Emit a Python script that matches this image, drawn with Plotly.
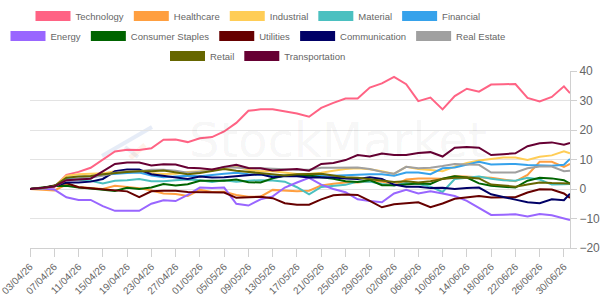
import pandas as pd
import plotly.graph_objects as go

# Dates: every 2 days from 03/04/26 to 30/06/26, plus 01/07/26
DATES = list(pd.date_range("2026-04-03", periods=45, freq="2D").strftime("%Y-%m-%d")) + ["2026-07-01"]

SERIES = ["Technology", "Healthcare", "Industrial", "Material", "Financial",
          "Energy", "Consumer Staples", "Utilities", "Communication", "Real Estate",
          "Retail", "Transportation"]

COLORS = ["#ff6384", "#ff9f40", "#ffcd56", "#4bc0c0", "#36a2eb",
          "#9966ff", "#006400", "#660000", "#000066", "#a0a0a0",
          "#666600", "#660033"]

technology = [0, 0.2, 0.6, 4.8, 5.8, 7.2, 9.8, 12.7, 13.3, 13.2, 13.8, 16.7, 16.8, 15.9, 17.2, 17.6,
              19.5, 22.4, 26.5, 27, 27, 26.4, 25.6, 24.5, 27.5, 29.2, 30.7, 30.7, 34.4, 35.8, 38, 35.5,
              29.8, 31, 27, 31.5, 34, 33, 35.4, 35.5, 35.6, 30.9, 29.7, 31.2, 34.8, 32.5]
healthcare = [0, -0.2, -0.5, 1.5, 0.7, 0.3, 0, 1.1, 0.8, 0.3, -0.5, -1.5, -1.7, -2.4, -0.3, -1,
              -0.9, -2, -2.6, -2.6, -0.3, -0.5, -0.8, -0.6, 1.2, 1.8, 2.2, 2.2, 2.6, 2.5, 1.2, 3.2,
              3.6, 3.6, 3.5, 4.4, 4.1, 4, 3.8, 3.3, 2.6, 4.8, 9.2, 9.2, 7.5, 8.5]
industrial = [0, 0.3, 0.8, 4.5, 5, 5.2, 5.3, 6, 6.2, 6.2, 5.3, 5.1, 5.2, 5.8, 6, 6.5,
              7.2, 7.5, 6.5, 6, 6, 5.5, 5.1, 5.1, 5.5, 6.2, 6.8, 7, 6.7, 6, 5.1, 7.5,
              6.8, 6.4, 6, 7.6, 8.8, 9.7, 10.2, 10.7, 10.7, 9.8, 10.9, 11.4, 12.8, 12.1]
material = [0, 0.2, 1, 3.4, 3.1, 2.8, 1.9, 2.8, 3, 3.4, 2.6, 2.6, 3, 3.2, 3, 2.4,
            3, 2.5, 2.8, 3, 2.9, 2.5, 0.6, -1.8, 0.7, 1.1, 1.4, 2.5, 2.5, 1.7, 1.2, 2,
            1.7, 0.8, -1, 3.4, 3.8, 4.2, 3.5, 3, 2.8, 3.8, 3.2, 1.5, 1.6, 1.7]
financial = [0, 0.3, 1, 3.4, 3.6, 3.8, 4.8, 5.2, 5.4, 5.6, 4.6, 4, 4.2, 4.5, 4.3, 4.8,
             5.2, 5.5, 5, 4.8, 4.5, 4.6, 4.5, 4.5, 4.5, 4.5, 4.7, 4.8, 5, 5, 4.5, 5.6,
             5.6, 5, 7, 7.3, 8.2, 9.2, 8.3, 8.4, 8.5, 8.1, 7.9, 7.9, 8.2, 10.2]
energy = [0, 0.2, -0.2, -2.8, -3.7, -3.7, -5.8, -7.4, -7.4, -7.4, -5, -3.8, -4.1, -2, 0.5, 0.3,
          0.5, -5, -5.6, -3.5, -2.5, 0.5, 2.2, 3.8, 1.5, 0, -1.1, -3.5, -4.1, -4.5, -1.5, -0.3,
          -1.5, -0.8, -1.5, -2.4, -4, -6.5, -8.8, -8.7, -8.6, -9.3, -8.5, -8.9, -9.8, -10.5]
consumer_staples = [0, 0.5, 1, 1.1, 0.5, 0.2, -0.3, -0.7, 0.4, 0, 0.5, 1.7, 1.2, 1.6, 2.8, 2.8,
                    2.8, 3.2, 2.3, 2.2, 3.6, 4.5, 4.5, 4.6, 4, 3.5, 2.6, 2.4, 3, 1.3, 1.3, 1.6,
                    1.9, 1.7, 3.5, 4.3, 3.9, 1.9, 1.1, 0.8, 0.5, 2.8, 3.8, 3.6, 3, 1.8]
utilities = [0, 0.3, 1.2, 2, 0.6, 0.3, -0.2, -0.4, -0.8, -2.8, -0.8, -0.6, -0.6, -1, -1.1, -1.1,
             -1.2, -3, -2.7, -2.6, -3.1, -4.8, -5.3, -5.3, -3.5, -2.1, -1.9, -2, -4, -6.2, -5.2, -4.8,
             -4.5, -6.2, -4.9, -3.3, -2.9, -2.4, -2.9, -2.9, -2.8, -1.2, -0.1, -0.2, -1.5, -3]
communication = [0, 0.3, 1, 2.2, 2.2, 2.5, 3.4, 6, 6.6, 6.6, 5, 4.5, 4, 3.4, 4.2, 3.9,
                 4, 4.4, 4.6, 5, 4, 4.4, 4.3, 3.9, 3.9, 3.9, 3.6, 3.4, 4, 3.4, 1.5, 0.8,
                 0.8, 0.3, 0.4, 0, 0.3, 0.5, -1.8, -2.8, -3.6, -4.5, -4.8, -3.5, -3.8, -1.6]
real_estate = [0, 0.2, 0.8, 3, 3.5, 4, 4.5, 5.5, 6, 6, 6.5, 6.5, 6.2, 5.5, 5.8, 6.2,
               7.5, 7.2, 7, 7, 6.8, 6.6, 6.5, 6.5, 7.2, 7.2, 7.3, 7.3, 6.8, 5.8, 5.2, 7.5,
               7, 7.2, 7.8, 8.5, 8.3, 8.2, 5.6, 5.6, 5.6, 7, 7.6, 7.6, 6, 6.2]
retail = [0, 0.3, 1, 3.8, 4.2, 4.4, 5, 5.5, 5.8, 6, 6, 6.3, 5.6, 5, 5.4, 6,
          6.8, 6.2, 5.8, 5.2, 4.8, 4.6, 5, 5.2, 5.2, 4.6, 4, 3.8, 3.4, 2.8, 2.4, 2.6,
          2.2, 2.6, 3.4, 3.8, 3.9, 3.6, 1.5, 1.2, 0.8, 1.5, 2.2, 2, 1.8, 1.9]
transportation = [0, 0.3, 0.8, 3, 3.2, 3.5, 6, 8.5, 9, 9, 8, 8.4, 8.3, 7.2, 7, 6.6,
                  7.5, 8.2, 7.1, 7, 6.3, 6.6, 6.8, 6.2, 8.5, 8.8, 9.8, 11.5, 11, 12, 11.5, 11.5,
                  12.2, 12.5, 11, 14, 14.2, 14, 11.5, 11.8, 12.1, 14.5, 15.5, 15.8, 15, 15.6]

VALUES = [technology, healthcare, industrial, material, financial,
          energy, consumer_staples, utilities, communication, real_estate,
          retail, transportation]

LEGEND_OF = ["legend"] * 5 + ["legend2"] * 5 + ["legend3"] * 2

Y_TICKS = [-20, -10, 0, 10, 20, 30, 40]

FONT = "Liberation Sans, Arial, sans-serif"
TEXT_COLOR = "#666666"

fig = go.Figure()

# data lines
for name, color, vals in zip(SERIES, COLORS, VALUES):
    fig.add_trace(go.Scatter(
        x=DATES, y=vals, mode="lines", name=name,
        line=dict(color=color, width=2),
        showlegend=False, legendgroup=name, hoverinfo="x+y+name"))

# legend entries (thick swatches)
for name, color, lg in zip(SERIES, COLORS, LEGEND_OF):
    fig.add_trace(go.Scatter(
        x=[None], y=[None], mode="lines", name=name,
        line=dict(color=color, width=12),
        legend=lg, legendgroup=name, showlegend=True))

legend_common = dict(orientation="h", xref="container", yref="container",
                     xanchor="center", yanchor="middle", x=258 / 603,
                     bgcolor="rgba(0,0,0,0)", itemwidth=35,
                     font=dict(family=FONT, size=9.5, color=TEXT_COLOR),
                     itemclick=False, itemdoubleclick=False)

fig.update_layout(
    width=603, height=302,
    margin=dict(l=30, r=33, t=71, b=54, autoexpand=False),
    paper_bgcolor="white", plot_bgcolor="white",
    font=dict(family=FONT, size=11, color=TEXT_COLOR),
    legend=dict(legend_common, y=1 - 16 / 302),
    legend2=dict(legend_common, y=1 - 36 / 302),
    legend3=dict(legend_common, y=1 - 56 / 302),
    xaxis=dict(
        type="date", range=["2026-04-03", "2026-07-01"],
        tick0="2026-04-03", dtick=4 * 86400000, tickformat="%d/%m/%y",
        tickangle=-45, showgrid=False, zeroline=False,
        showline=True, linecolor="#d0d0d0", linewidth=1,
        ticks="outside", ticklen=8, tickcolor="#d0d0d0",
        ticklabeloverflow="allow",
        tickfont=dict(family=FONT, size=10, color=TEXT_COLOR),
        automargin=False, fixedrange=True),
    yaxis=dict(
        side="right", range=[-20, 40], tickvals=Y_TICKS,
        showgrid=True, gridcolor="#e3e3e3", gridwidth=1, zeroline=False,
        showline=True, linecolor="#d0d0d0", linewidth=1,
        ticks="outside", ticklen=6, tickcolor="#d0d0d0",
        tickfont=dict(family=FONT, size=12, color=TEXT_COLOR),
        automargin=False, fixedrange=True),
)

# faint watermark
fig.add_annotation(text="StockMarket", xref="paper", yref="paper",
                   x=(337.5 - 30) / 540, y=(248 - 140) / 177, xanchor="center", yanchor="middle",
                   showarrow=False,
                   font=dict(family="DejaVu Sans, sans-serif", size=48, color="rgba(0,0,0,0.05)"))
fig.add_shape(type="line", xref="paper", yref="paper",
              x0=(102 - 30) / 540, y0=(248 - 156) / 177, x1=(152 - 30) / 540, y1=(248 - 127) / 177,
              line=dict(color="rgba(90,130,200,0.15)", width=4), layer="below")
fig.add_shape(type="line", xref="paper", yref="paper",
              x0=(125 - 30) / 540, y0=(248 - 147) / 177, x1=(138 - 30) / 540, y1=(248 - 157) / 177,
              line=dict(color="rgba(90,130,200,0.12)", width=4), layer="below")
fig.add_shape(type="line", xref="paper", yref="paper",
              x0=(130 - 30) / 540, y0=(248 - 158) / 177, x1=(145 - 30) / 540, y1=(248 - 145) / 177,
              line=dict(color="rgba(255,170,110,0.15)", width=5), layer="below")

fig.write_html("out.html", config={"displayModeBar": False})
